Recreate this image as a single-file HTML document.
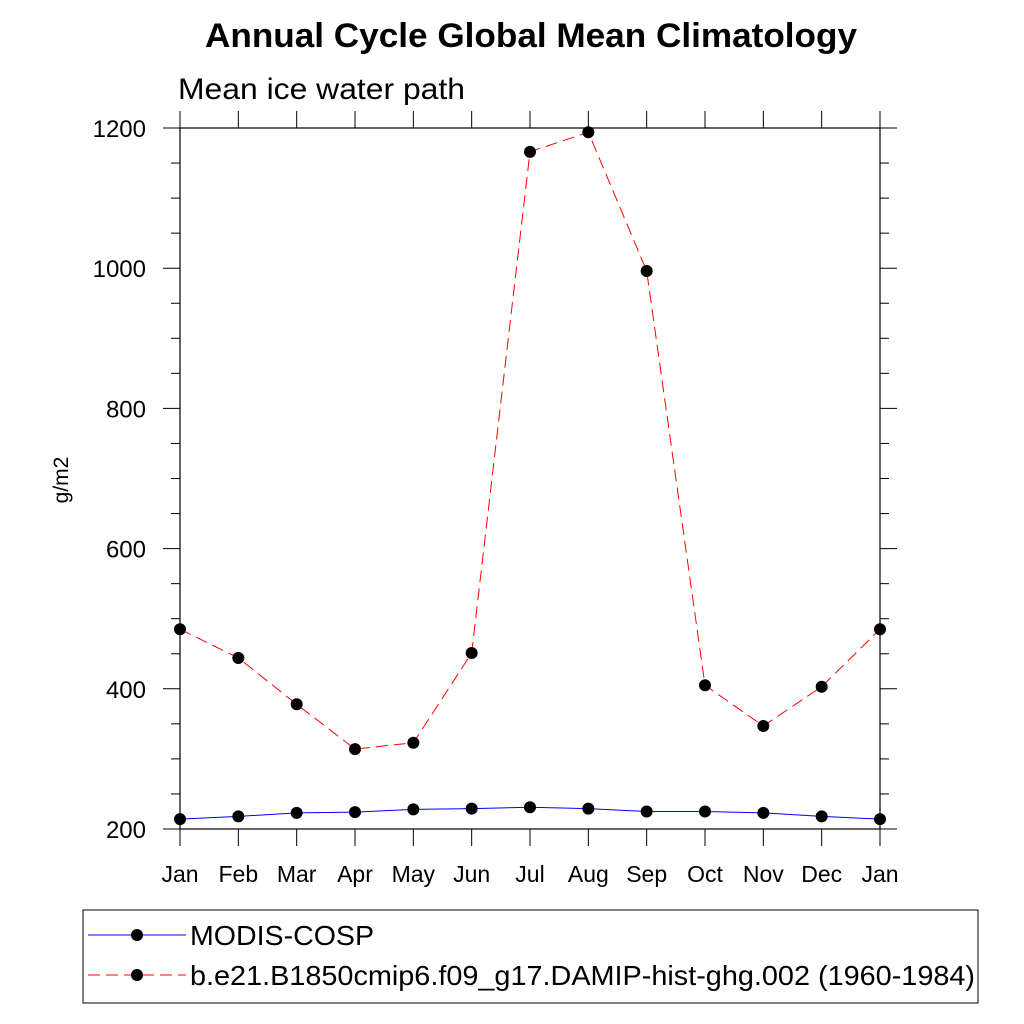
<!DOCTYPE html>
<html><head><meta charset="utf-8"><style>body{margin:0;background:#fff}svg{display:block;font-family:"Liberation Sans",sans-serif}</style></head>
<body>
<svg id="c" width="1024" height="1024" viewBox="0 0 1024 1024">
<text x="205" y="47" font-size="34" font-weight="bold" textLength="652" lengthAdjust="spacingAndGlyphs">Annual Cycle Global Mean Climatology</text>
<text x="178" y="99" font-size="30" textLength="287" lengthAdjust="spacingAndGlyphs">Mean ice water path</text>
<text transform="translate(68,480) rotate(-90)" text-anchor="middle" font-size="21">g/m2</text>
<g id="axes"></g><g id="series"></g>
<rect x="83" y="910" width="895" height="93" fill="none" stroke="#000" stroke-width="1"/>
<g>
<line x1="88" y1="935" x2="186" y2="935" stroke="#00f" stroke-width="1"/><circle cx="137" cy="935" r="6"/>
<text x="190" y="945" font-size="28" textLength="184" lengthAdjust="spacingAndGlyphs">MODIS-COSP</text></g>
<g>
<line x1="88" y1="975" x2="186" y2="975" stroke="#f00" stroke-width="1" stroke-dasharray="12,6"/><circle cx="137" cy="975" r="6"/>
<text x="190" y="985" font-size="28" textLength="785" lengthAdjust="spacingAndGlyphs">b.e21.B1850cmip6.f09_g17.DAMIP-hist-ghg.002 (1960-1984)</text></g>
</svg>
<script>
const months=["Jan","Feb","Mar","Apr","May","Jun","Jul","Aug","Sep","Oct","Nov","Dec","Jan"];
const yTicks=[200,400,600,800,1000,1200];
const modis=[214,218,223,224,228,229,231,229,225,225,223,218,214];
const model=[485,444,378,314,323,451,1166,1194,996,405,347,403,485];
const L=180,R=880,T=128,B=829,ymin=200,ymax=1200;
const xs=i=>L+(R-L)*i/12, ys=v=>B-(B-T)*(v-ymin)/(ymax-ymin);
const NS="http://www.w3.org/2000/svg";
function mk(t,a,p){const e=document.createElementNS(NS,t);for(const k in a)e.setAttribute(k,a[k]);p.appendChild(e);return e;}
const ax=document.getElementById('axes');
const fr=mk('rect',{x:L,y:T,width:R-L,height:B-T,fill:'none',stroke:'#000','stroke-width':1.2},ax);


months.forEach((m,i)=>{const x=xs(i);
mk('line',{x1:x,y1:B,x2:x,y2:B+17,stroke:'#000'},ax);mk('line',{x1:x,y1:T,x2:x,y2:T-17,stroke:'#000'},ax);
const t=mk('text',{x:x,y:882,'text-anchor':'middle','font-size':23},ax);t.textContent=m;

});
for(let v=ymin;v<=ymax;v+=50){const y=ys(v),maj=(v-ymin)%200===0;
mk('line',{x1:L,y1:y,x2:L-(maj?17:9),y2:y,stroke:'#000'},ax);mk('line',{x1:R,y1:y,x2:R+(maj?17:9),y2:y,stroke:'#000'},ax);}
yTicks.forEach(v=>{const t=mk('text',{x:146,y:ys(v)+9,'text-anchor':'end','font-size':24},ax);t.textContent=v;

});
const sg=document.getElementById('series');
function draw(d,col,dash,name){const g=mk('g',{},sg);


const a={points:d.map((v,i)=>xs(i)+','+ys(v)).join(' '),fill:'none',stroke:col,'stroke-width':1};if(dash)a['stroke-dasharray']=dash;mk('polyline',a,g);
d.forEach((v,i)=>{const c=mk('circle',{cx:xs(i),cy:ys(v),r:6},g);

});}
draw(modis,'#00f',null,'modis-series');
draw(model,'#f00','12,6','model-series');
</script>
</body></html>
